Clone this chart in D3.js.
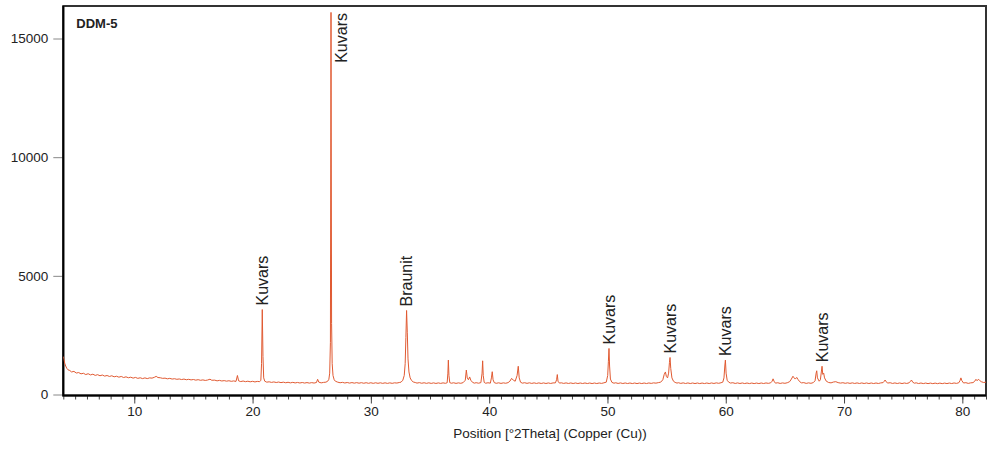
<!DOCTYPE html>
<html>
<head>
<meta charset="utf-8">
<script src="https://cdn.jsdelivr.net/npm/d3@7"></script>
<style>
  body { margin: 0; background: #fff; }
  svg text { font-family: "Liberation Sans", Arial, sans-serif; fill: #222; }
</style>
</head>
<body>
<div id="xrd"></div>
<script>
const scan = [
  [4.00,1600],[4.05,1480],[4.12,1320],[4.2,1200],[4.3,1100],[4.4,1040],[4.55,1010],[4.7,950],[4.9,975],
  [5.1,905],[5.3,925],[5.5,870],[5.7,895],[5.9,840],[6.1,875],[6.3,825],[6.5,855],[6.7,805],[6.9,835],
  [7.1,790],[7.3,820],[7.5,775],[7.7,800],[7.9,760],[8.1,790],[8.3,745],[8.5,770],[8.7,730],[8.9,760],
  [9.1,715],[9.3,745],[9.5,705],[9.7,730],[9.9,690],[10.1,720],[10.3,680],[10.5,705],[10.7,670],[10.9,700],
  [11.1,670],[11.3,700],[11.5,690],[11.7,725],[11.85,765],[12.0,715],[12.2,705],[12.4,680],[12.6,690],
  [12.8,660],[13.0,680],[13.2,650],[13.4,665],[13.6,640],[13.8,655],[14.0,630],[14.2,650],[14.4,622],
  [14.6,640],[14.8,615],[15.0,632],[15.2,605],[15.4,625],[15.6,598],[15.8,615],[16.0,592],[16.2,610],
  [16.4,645],[16.55,600],[16.8,605],[17.0,575],[17.2,595],[17.4,570],[17.6,585],[17.8,562],[18.0,580],
  [18.2,555],[18.4,572],[18.6,552],[18.72,800],[18.82,575],[19.0,545],[19.2,568],[19.4,540],[19.6,560],
  [19.8,535],[20.0,555],[20.2,530],[20.4,552],[20.6,540],[20.7,600],[20.76,1300],[20.82,3580],[20.88,1600],
  [20.94,700],[21.03,560],[21.2,520],[21.4,535],[21.6,510],[21.8,530],[22.0,505],[22.2,525],[22.4,500],
  [22.6,520],[22.8,495],[23.0,515],[23.2,490],[23.4,512],[23.6,488],[23.8,508],[24.0,485],[24.2,505],
  [24.4,482],[24.6,502],[24.8,480],[25.0,500],[25.2,482],[25.4,505],[25.5,640],[25.6,520],[25.8,490],
  [26.0,510],[26.2,520],[26.35,560],[26.45,640],[26.52,900],[26.58,2200],[26.63,16100],[26.68,3000],
  [26.73,1300],[26.8,800],[26.9,620],[27.0,560],[27.2,520],[27.4,495],[27.6,512],[27.8,485],[28.0,505],
  [28.2,480],[28.4,502],[28.6,478],[28.8,500],[29.0,476],[29.2,498],[29.4,474],[29.6,497],[29.8,472],
  [30.0,495],[30.2,470],[30.4,494],[30.6,471],[30.8,493],[31.0,469],[31.2,492],[31.4,468],[31.6,491],
  [31.8,470],[32.0,492],[32.2,482],[32.4,505],[32.55,520],[32.7,600],[32.82,800],[32.9,1300],[32.96,2400],
  [33.02,3540],[33.08,2600],[33.14,1500],[33.22,950],[33.32,700],[33.44,590],[33.58,530],[33.75,505],
  [33.9,480],[34.1,500],[34.3,474],[34.5,495],[34.7,470],[34.9,492],[35.1,468],[35.3,490],[35.5,466],
  [35.7,489],[35.9,468],[36.1,490],[36.3,472],[36.45,495],[36.51,900],[36.55,1450],[36.6,800],[36.67,500],
  [36.8,475],[37.0,494],[37.2,468],[37.4,490],[37.6,472],[37.8,500],[37.98,600],[38.07,1030],[38.15,700],
  [38.25,620],[38.35,740],[38.45,600],[38.6,510],[38.75,478],[38.9,498],[39.1,476],[39.3,500],[39.4,900],
  [39.45,1420],[39.5,800],[39.58,510],[39.7,475],[39.9,494],[40.1,478],[40.19,700],[40.26,960],[40.33,620],
  [40.43,500],[40.6,472],[40.8,492],[41.0,468],[41.2,490],[41.4,474],[41.6,500],[41.75,560],[41.9,680],
  [42.05,600],[42.2,560],[42.36,800],[42.46,1190],[42.54,700],[42.65,520],[42.8,478],[43.0,496],
  [43.2,470],[43.4,492],[43.6,468],[43.8,490],[44.0,466],[44.2,489],[44.4,465],[44.6,488],[44.8,464],
  [45.0,487],[45.2,465],[45.4,488],[45.6,490],[45.7,620],[45.76,840],[45.82,560],[45.94,480],[46.1,492],
  [46.3,468],[46.5,489],[46.7,465],[46.9,487],[47.1,463],[47.3,486],[47.5,462],[47.7,485],[47.9,463],
  [48.1,486],[48.3,462],[48.5,484],[48.7,461],[48.9,484],[49.1,462],[49.3,485],[49.5,468],[49.7,492],
  [49.9,520],[50.02,800],[50.08,1400],[50.13,1940],[50.18,1200],[50.25,650],[50.38,510],[50.55,476],
  [50.7,494],[50.9,466],[51.1,488],[51.3,463],[51.5,486],[51.7,462],[51.9,485],[52.1,461],[52.3,484],
  [52.5,460],[52.7,483],[52.9,461],[53.1,484],[53.3,462],[53.5,486],[53.7,468],[53.9,490],[54.1,478],
  [54.3,500],[54.5,520],[54.68,620],[54.8,850],[54.9,950],[54.98,760],[55.08,700],[55.17,900],
  [55.24,1350],[55.29,1560],[55.35,1100],[55.45,700],[55.58,560],[55.72,510],[55.88,480],[56.0,496],
  [56.2,468],[56.4,490],[56.6,464],[56.8,487],[57.0,462],[57.2,485],[57.4,461],[57.6,484],[57.8,460],
  [58.0,483],[58.2,461],[58.4,484],[58.6,462],[58.8,486],[59.0,465],[59.2,490],[59.4,472],[59.6,495],
  [59.75,520],[59.85,700],[59.92,1200],[59.97,1450],[60.03,900],[60.12,600],[60.25,520],[60.4,482],
  [60.6,496],[60.8,466],[61.0,488],[61.2,463],[61.4,486],[61.6,461],[61.8,484],[62.0,460],[62.2,483],
  [62.4,460],[62.6,482],[62.8,461],[63.0,484],[63.2,463],[63.4,487],[63.6,470],[63.8,492],[63.92,560],
  [64.0,660],[64.08,560],[64.2,478],[64.4,495],[64.6,466],[64.8,488],[65.0,472],[65.2,495],[65.4,540],
  [65.55,650],[65.68,770],[65.78,700],[65.88,650],[66.0,720],[66.1,640],[66.25,540],[66.4,490],[66.6,500],
  [66.8,468],[67.0,490],[67.2,472],[67.4,500],[67.55,580],[67.64,900],[67.69,1000],[67.75,700],[67.9,560],
  [68.0,620],[68.08,950],[68.14,1190],[68.2,850],[68.28,900],[68.35,700],[68.5,560],[68.7,505],[68.9,490],
  [69.1,525],[69.3,540],[69.5,500],[69.7,480],[69.9,497],[70.1,472],[70.3,492],[70.5,468],[70.7,490],
  [70.9,466],[71.1,488],[71.3,464],[71.5,487],[71.7,463],[71.9,486],[72.1,462],[72.3,485],[72.5,462],
  [72.7,485],[72.9,464],[73.1,488],[73.3,500],[73.4,560],[73.47,610],[73.55,540],[73.7,482],[73.9,496],
  [74.1,466],[74.3,488],[74.5,463],[74.7,486],[74.9,462],[75.1,485],[75.3,466],[75.5,492],[75.62,560],
  [75.7,610],[75.8,520],[75.95,476],[76.1,492],[76.3,462],[76.5,484],[76.7,460],[76.9,482],[77.1,458],
  [77.3,481],[77.5,458],[77.7,480],[77.9,457],[78.1,480],[78.3,458],[78.5,481],[78.7,460],[78.9,483],
  [79.1,462],[79.3,486],[79.5,468],[79.7,495],[79.8,580],[79.88,700],[79.95,590],[80.1,485],[80.3,498],
  [80.5,468],[80.7,490],[80.9,500],[81.05,560],[81.15,640],[81.25,580],[81.35,640],[81.45,600],
  [81.6,540],[81.8,505],[82.0,520]
];

// phase labels over the identified reflections
const peakNames  = ["Kuvars", "Kuvars", "Braunit", "Kuvars", "Kuvars", "Kuvars", "Kuvars"];
const peakTheta  = [20.82, 26.63, 33.02, 50.13, 55.29, 59.97, 68.14];
const peakCounts = [3580, 16100, 3540, 1940, 1560, 1450, 1190];

const xTickValues = [10, 20, 30, 40, 50, 60, 70, 80];
const yTickValues = [0, 5000, 10000, 15000];
const sampleName = "DDM-5";
const xTitle = "Position [°2Theta] (Copper (Cu))";

// set the dimensions and margins of the graph
const margin = { top: 6, right: 6, bottom: 59.5, left: 63.3 },
  width = 992 - margin.left - margin.right,
  height = 454 - margin.top - margin.bottom;

const svg = d3.select("#xrd")
  .append("svg")
  .attr("width", 992)
  .attr("height", 454)
  .append("g")
  .attr("transform", `translate(${margin.left},${margin.top})`);

const x = d3.scaleLinear().domain([4, 82]).range([0, width]);
const y = d3.scaleLinear().domain([0, 16370]).range([height, 0]);

svg.append("clipPath").attr("id", "plotclip")
  .append("rect").attr("width", width).attr("height", height);

// minor ticks every degree
const xMinor = svg.append("g")
  .attr("transform", `translate(0,${height + 1})`)
  .call(d3.axisBottom(x).tickValues(d3.range(4, 83)).tickSize(4).tickFormat(""));
xMinor.select(".domain").remove();
xMinor.selectAll("line").attr("stroke", "#444");

const xAxis = svg.append("g")
  .attr("transform", `translate(0,${height + 1})`)
  .call(d3.axisBottom(x).tickValues(xTickValues).tickSize(8).tickPadding(3));
xAxis.select(".domain").remove();
xAxis.selectAll("line").attr("stroke", "#444");
xAxis.selectAll("text").attr("font-size", 13.5).attr("fill", "#222")
  .style("font-family", '"Liberation Sans", Arial, sans-serif');

const yAxis = svg.append("g")
  .call(d3.axisLeft(y).tickValues(yTickValues).tickSize(10).tickPadding(5).tickFormat(d3.format("d")));
yAxis.select(".domain").remove();
yAxis.selectAll("line").attr("stroke", "#888");
yAxis.selectAll("text").attr("font-size", 13.5).attr("fill", "#222")
  .style("font-family", '"Liberation Sans", Arial, sans-serif');

// frame
svg.append("rect")
  .attr("width", width)
  .attr("height", height + 1)
  .attr("fill", "none")
  .attr("stroke", "#333")
  .attr("stroke-width", 2);
svg.append("path")
  .attr("d", `M0,0V${height + 1}H${width}`)
  .attr("fill", "none")
  .attr("stroke", "#000")
  .attr("stroke-width", 2);

// the pattern
svg.append("path")
  .datum(scan)
  .attr("clip-path", "url(#plotclip)")
  .attr("fill", "none")
  .attr("stroke", "#e05a32")
  .attr("stroke-width", 1)
  .attr("stroke-linejoin", "round")
  .attr("d", d3.line().x(d => x(d[0])).y(d => y(d[1])));

// peak labels, rotated, sitting just above each reflection
peakNames.forEach((name, i) => {
  let px = x(peakTheta[i]);
  const t = svg.append("text")
    .attr("font-size", 16)
    .attr("dy", "0.35em")
    .text(name);
  const len = t.node().getComputedTextLength();
  let py = y(peakCounts[i]) - 4;
  if (py - len < 4) {        // too tall: park it beside the peak at the top
    py = len + 7;
    px += 10;
  }
  t.attr("transform", `translate(${px},${py}) rotate(-90)`);
});

svg.append("text")
  .attr("x", 13)
  .attr("y", 22)
  .attr("font-size", 13)
  .attr("font-weight", "bold")
  .text(sampleName);

svg.append("text")
  .attr("x", 550 - margin.left)
  .attr("y", 438 - margin.top)
  .attr("text-anchor", "middle")
  .attr("font-size", 13.5)
  .text(xTitle);
</script>
</body>
</html>
